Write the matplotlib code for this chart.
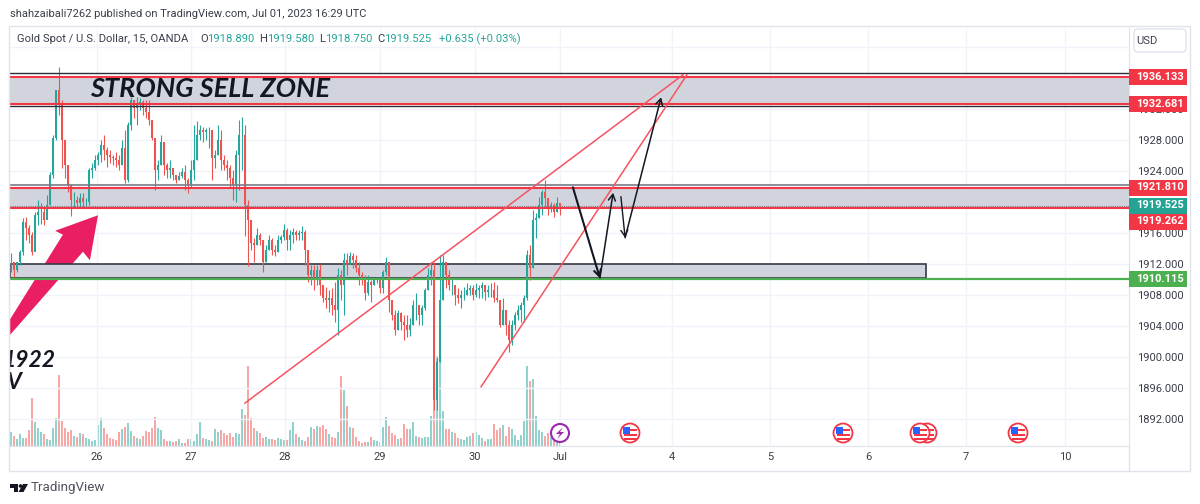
import numpy as np
import matplotlib
matplotlib.use("Agg")
import matplotlib.pyplot as plt
from matplotlib.patches import Rectangle, Polygon, Circle, FancyBboxPatch

plt.rcParams['font.family'] = ['Roboto', 'DejaVu Sans']

# ---------- data ----------
highs = [1913.4,1912.3,1912.3,1913.8,1917.9,1918.1,1917.0,1916.1,1918.7,1920.3,1919.9,1919.5,
 1920.9,1923.9,1928.6,1934.4,1937.4,1933.2,1928.0,1924.8,1922.2,1921.3,1920.8,1921.2,1921.2,1920.5,
 1924.4,1925.0,1926.1,1926.5,1928.0,1928.6,1927.1,1926.7,1926.1,1926.5,1926.1,1928.0,1929.3,1930.3,
 1933.5,1933.2,1933.5,1933.4,1933.2,1933.2,1933.2,1930.6,1928.3,1925.4,1928.6,1927.7,1925.0,1925.4,
 1924.4,1923.5,1923.9,1924.4,1924.8,1923.1,1925.4,1929.9,1930.4,1929.9,1929.7,1929.5,1929.7,1929.3,
 1926.7,1929.9,1929.3,1926.1,1925.4,1924.8,1924.1,1926.7,1930.6,1930.9,1929.9,1920.3,1917.7,1915.4,
 1916.7,1916.0,1915.1,1914.5,1915.8,1915.4,1914.5,1915.8,1915.8,1917.2,1916.7,1916.4,1916.7,1916.4,
 1916.4,1916.9,1916.4,1913.8,1911.9,1911.9,1911.9,1912.0,1909.3,1909.1,1908.7,1908.9,1909.7,1911.5,
 1911.2,1913.4,1913.4,1913.6,1913.4,1913.2,1912.3,1911.0,1910.6,1910.6,1910.0,1910.2,1910.3,1910.0,
 1911.2,1912.9,1912.3,1907.4,1906.1,1906.1,1905.8,1905.4,1905.4,1905.1,1907.4,1908.3,1906.7,1906.7,
 1908.9,1911.5,1912.3,1912.3,1900.0,1913.2,1913.2,1912.0,1911.2,1910.2,1909.3,1908.9,1908.7,1909.1,
 1909.6,1909.3,1909.3,1909.6,1909.3,1909.7,1909.3,1909.3,1909.6,1909.7,1909.3,1907.4,1907.6,1906.1,
 1904.8,1904.8,1905.8,1906.7,1907.1,1908.0,1913.8,1914.5,1919.0,1918.6,1920.7,1921.6,1922.8,1920.5,
 1920.0,1919.9,1920.7,1919.9]
lows = [1911.0,1910.3,1911.0,1911.9,1913.2,1915.1,1914.7,1913.2,1915.8,1917.0,1917.2,1917.0,
 1918.3,1919.6,1923.1,1928.0,1931.2,1924.4,1923.1,1921.3,1918.2,1919.2,1919.2,1919.4,1919.2,1919.4,
 1919.6,1923.1,1924.1,1924.8,1925.2,1925.4,1924.5,1925.0,1924.8,1924.5,1924.1,1924.8,1922.5,1922.6,
 1929.3,1930.8,1929.9,1931.9,1931.2,1930.8,1929.9,1928.0,1921.6,1922.8,1924.8,1923.5,1923.1,1923.1,
 1922.8,1922.5,1922.8,1923.1,1921.6,1921.2,1921.8,1922.8,1925.4,1928.0,1927.7,1928.0,1927.0,1922.8,
 1924.4,1926.1,1924.1,1924.1,1922.8,1921.9,1920.3,1920.0,1921.6,1924.1,1915.6,1911.8,1913.8,1912.3,
 1914.5,1914.5,1911.0,1912.3,1913.8,1913.2,1913.0,1913.6,1914.7,1915.1,1913.8,1913.8,1914.7,1915.1,
 1915.1,1915.1,1911.9,1909.7,1909.3,1908.7,1909.3,1908.0,1907.1,1906.3,1905.8,1905.4,1904.5,1902.9,
 1907.4,1905.4,1910.6,1912.3,1911.5,1911.0,1909.3,1909.3,1907.4,1908.0,1907.1,1909.3,1909.6,1908.3,
 1908.3,1910.6,1905.8,1904.8,1902.9,1903.5,1903.5,1902.2,1902.6,1902.7,1904.2,1904.8,1904.2,1904.2,
 1906.1,1908.7,1909.3,1893.2,1893.2,1899.4,1907.4,1908.9,1908.7,1908.0,1906.7,1907.0,1906.3,1907.4,
 1908.0,1908.0,1907.4,1907.8,1907.6,1907.6,1907.4,1907.8,1907.8,1907.1,1907.1,1903.9,1904.2,1902.9,
 1900.7,1901.6,1903.5,1904.8,1904.5,1904.5,1907.4,1910.0,1911.5,1915.4,1917.9,1918.3,1919.5,1918.3,
 1918.7,1918.1,1918.7,1918.3]
closes = [1912.3,1911.2,1912.3,1913.6,1917.4,1916.7,1915.8,1913.6,1918.3,1918.7,1918.7,1917.7,
 1919.6,1923.5,1928.3,1934.4,1932.5,1928.0,1924.8,1922.2,1920.3,1920.3,1919.9,1920.5,1920.0,1920.0,
 1924.1,1924.4,1925.4,1926.1,1927.4,1926.7,1926.1,1925.8,1925.7,1925.4,1924.8,1927.0,1922.8,1929.9,
 1933.2,1932.1,1932.5,1932.9,1932.1,1931.6,1930.6,1928.3,1924.1,1924.8,1927.7,1924.8,1924.1,1924.4,
 1923.5,1922.8,1923.4,1923.9,1922.8,1922.2,1924.1,1925.4,1928.6,1929.3,1929.0,1929.3,1929.3,1925.7,
 1926.1,1928.0,1925.4,1924.8,1924.4,1923.1,1922.2,1926.1,1928.6,1928.6,1919.6,1917.7,1914.7,1914.5,
 1915.8,1915.1,1912.3,1913.8,1915.1,1913.8,1913.6,1915.1,1915.5,1916.4,1915.1,1915.8,1916.1,1915.8,
 1916.0,1916.1,1913.8,1910.6,1911.2,1910.0,1911.2,1909.3,1907.6,1907.4,1907.6,1906.7,1906.1,1910.6,
 1909.3,1912.5,1911.9,1913.0,1912.5,1911.5,1910.6,1910.0,1908.3,1909.7,1909.3,1910.0,1910.1,1908.9,
 1911.0,1912.3,1907.4,1905.4,1903.5,1905.7,1904.5,1904.2,1903.5,1904.2,1906.7,1906.7,1905.4,1906.3,
 1908.7,1910.6,1911.2,1894.5,1899.4,1907.4,1912.3,1910.6,1909.3,1909.3,1908.0,1907.6,1908.0,1908.0,
 1908.7,1908.9,1908.0,1908.7,1908.9,1909.3,1908.4,1908.7,1908.7,1907.6,1907.4,1904.2,1906.1,1904.2,
 1902.2,1904.2,1905.4,1906.1,1906.7,1907.6,1913.2,1911.5,1917.7,1917.9,1919.6,1921.3,1920.5,1919.2,
 1919.6,1918.7,1919.9,1919.525]
volumes = [14,10,7,12,8,8,16,48,24,18,14,12,7,6,18,28,71,25,18,14,16,10,9,13,12,8,7,5,6,21,28,18,12,8,7,6,
 14,17,19,23,15,10,8,7,10,15,14,18,29,18,16,7,5,5,4,5,7,3,3,7,7,5,12,24,8,7,6,5,17,14,16,13,11,13,9,13,
 12,37,31,80,28,18,15,13,8,9,7,7,6,8,7,6,6,16,24,12,9,6,5,9,19,17,20,19,21,17,12,9,8,14,70,56,40,19,18,
 9,5,3,4,4,9,6,5,4,19,29,20,13,11,7,8,22,17,17,24,10,9,8,9,9,30,100,90,140,35,17,17,14,13,8,7,6,9,10,13,
 14,11,8,5,7,7,22,16,18,21,10,19,17,11,6,11,25,80,65,67,30,16,14,10,13,9,7,6,4]

date_pos = [28.67,60,91.33,123,154.67,183,220.33,253,285.67,318.33,351.33]
date_labels = ['26','27','28','29','30','Jul','4','5','6','7','10']
price_ticks = [1892,1896,1900,1904,1908,1912,1916,1920,1924,1928,1932,1936]
grid_only_price = 1940

sell_zone = (1932.681,1936.133)
mid_zone = (1919.262,1921.810)
low_band = (1910.2,1912.0)
support = 1910.115

trend_a_t, trend_a_p = [78,224], [1894.1,1936.4]
trend_b_t, trend_b_p = [156.7,225.3], [1896.2,1936.4]
path_t = [187.3,196.3,200.7]
path_p = [1921.9,1910.2,1921.2]
path2_t = [203.3,204.7,216.7]
path2_p = [1920.7,1915.4,1933.5]
pink_t = [29,14.7,17.3,-0.3,-0.3,24,26.3]
pink_p = [1918.3,1916.3,1915.8,1904.9,1902.9,1913.6,1912.5]

hdr = 'shahzaibali7262 published on TradingView.com, Jul 01, 2023 16:29 UTC'
TEAL, RED = '#26a69a', '#ef5350'
GRID, BORDER, TXT = '#f0f3fa', '#e0e3eb', '#131722'

# ---------- figure ----------
fig = plt.figure(figsize=(12,5.04), dpi=100, facecolor='white')
pos = [10/1200, (504-446)/504, 1119/1200, 418/504]
vax = fig.add_axes(pos, zorder=1)
ax = fig.add_axes(pos, zorder=2, facecolor='none')
x = np.arange(len(closes))
xlim = (-1/3, 1119/3-1/3)
ylim = (1888.57, 1942.43)

opens = np.array([closes[0]] + closes[:-1])
c = np.array(closes)
up = c >= opens
cols = [TEAL if u else RED for u in up]

# volume
vax.set_xlim(xlim); vax.set_ylim(0,418); vax.axis('off')
vax.bar(x, volumes, width=0.9, color=cols, alpha=0.5, linewidth=0)

ax.set_xlim(xlim); ax.set_ylim(ylim)
for s in ('top','left'):
    ax.spines[s].set_visible(False)
for s in ('bottom','right'):
    ax.spines[s].set_color(BORDER)
ax.yaxis.tick_right()
ax.set_yticks(price_ticks)
ax.set_yticklabels([f'{p:.3f}' for p in price_ticks])
ax.set_xticks(date_pos); ax.set_xticklabels(date_labels)
ax.tick_params(length=0, labelcolor='#3a3e4a', labelsize=8.0)
ax.tick_params(axis='y', pad=6)
ax.tick_params(axis='x', pad=4)
ax.grid(True, color=GRID, lw=1, zorder=0)
ax.axhline(grid_only_price, color=GRID, lw=1, zorder=0)
ax.set_axisbelow(True)

# pink arrow (below the zones)
ax.add_patch(Polygon(list(zip(pink_t, pink_p)), closed=True, fc='#e91e63', ec='none', zorder=1.5))

# zones
ax.axhspan(*sell_zone, color='#d1d4dc', lw=0, zorder=2)
ax.axhspan(*mid_zone, color='#d1d4dc', lw=0, zorder=2)
ax.add_patch(Rectangle((xlim[0], low_band[0]), (926-10)/3, low_band[1]-low_band[0],
                       fc='#d1d4dc', ec='#363a45', lw=1.2, zorder=2))

# candles
ax.vlines(x, lows, highs, color=cols, lw=0.8, zorder=3)
ax.bar(x, np.abs(c-opens), bottom=np.minimum(c,opens), width=0.5,
       color=cols, linewidth=0, zorder=3)

# zone lines
ax.axhline(1936.67, color='#2a2e39', lw=1, zorder=4)
ax.axhline(1932.43, color='#2a2e39', lw=1, zorder=4)
ax.axhline(1922.15, color='#787b86', lw=1.2, zorder=4)
ax.axhline(1919.5, color='#787b86', lw=0.8, ls=(0,(1,1)), zorder=4)
for p in (sell_zone[1], sell_zone[0], mid_zone[1], mid_zone[0]):
    ax.axhline(p, color='#f23645', lw=1.5, zorder=4.2)
ax.axhline(support, color='#4caf50', lw=1.6, zorder=4.2)

# trend lines
ax.plot(trend_a_t, trend_a_p, color='#f7525f', lw=1.1, zorder=5)
ax.plot(trend_b_t, trend_b_p, color='#f7525f', lw=1.1, zorder=5)

# black path arrows
def arrow(t0,p0,t1,p1,lw):
    ax.annotate('', xy=(t1,p1), xytext=(t0,p0), zorder=6,
        arrowprops=dict(arrowstyle='->,head_width=0.25,head_length=0.45', color='#131722',
                        lw=lw, shrinkA=0, shrinkB=0))
arrow(path_t[0],path_p[0],path_t[1],path_p[1],1.5)
arrow(path_t[1],path_p[1],path_t[2],path_p[2],1.1)
arrow(path2_t[0],path2_p[0],path2_t[1],path2_p[1],1.0)
arrow(path2_t[1],path2_p[1],path2_t[2],path2_p[2],1.1)

# annotation text
ax.text(26.2, 1934.55, 'STRONG SELL ZONE', family='Lato', style='italic', weight='bold',
        fontsize=19.5, color='#131722', va='center', ha='left', zorder=7)
ax.text(15, 1899.6, '1922', family='Lato', style='italic', weight='bold', fontsize=16.5,
        color='#131722', va='center', ha='right', zorder=7, clip_on=True)
ax.text(-1.2, 1896.75, 'V', family='Lato', style='italic', weight='bold', fontsize=16.5,
        color='#131722', va='center', ha='left', zorder=7, clip_on=True)

# ---------- chrome in pixel coordinates ----------
ch = fig.add_axes([0,0,1,1], zorder=5, facecolor='none')
ch.set_xlim(0,1200); ch.set_ylim(504,0); ch.axis('off')
ch.add_patch(Rectangle((8.5,25.5),1181,445.5, fc='none', ec=BORDER, lw=1))
ch.plot([1129,1129],[446,471], color=BORDER, lw=1)
ch.text(10,14,hdr,fontsize=8.0,color='#3a3e4a',va='center')
ch.text(17,39,'Gold Spot / U.S. Dollar, 15, OANDA',fontsize=8.1,color='#3a3e4a',va='center')
for lab,xa,val,xb in [('O',200,'1918.890',207),('H',259,'1919.580',267),('L',319,'1918.750',325),('C',377,'1919.525',384)]:
    ch.text(xa,39,lab,fontsize=8.1,color='#3a3e4a',va='center')
    ch.text(xb,39,val,fontsize=8.1,color=TEAL,va='center')
ch.text(439,39,'+0.635 (+0.03%)',fontsize=8.1,color=TEAL,va='center')

ch.add_patch(FancyBboxPatch((1134,29),52,23,boxstyle='round,pad=0,rounding_size=4',fc='white',ec=BORDER,lw=1))
ch.text(1136,40.5,'USD',fontsize=8.0,color='#3a3e4a',va='center')

for y,txt,col in [(77,'1936.133','#f23645'),(104,'1932.681','#f23645'),(187.5,'1921.810','#f23645'),
                  (205.5,'1919.525','#22a394'),(221.5,'1919.262','#f23645'),(279,'1910.115','#4caf50')]:
    ch.add_patch(Rectangle((1129,y-8),58,16,fc=col,ec='none',zorder=3))
    ch.text(1136.5,y,txt,fontsize=8.0,color='white',weight='bold',va='center',zorder=4)

# event icons
def flag(cx,cy):
    ch.add_patch(Circle((cx,cy),9.5,fc='white',ec='#f23645',lw=1.3))
    ch.add_patch(Rectangle((cx-6.5,cy+1),13,2,fc='#f23645',ec='none'))
    ch.add_patch(Rectangle((cx-6.5,cy+5),13,2,fc='#f23645',ec='none'))
    ch.add_patch(Rectangle((cx-1,cy-4),8,2,fc='#f23645',ec='none'))
    ch.add_patch(Rectangle((cx-7,cy-6.5),7,7,fc='#2962ff',ec='none'))
for cx in (630,843,927,920,1018):
    flag(cx,433)
ch.add_patch(Circle((560,433),9,fc='white',ec='#9c27b0',lw=1.5))
ch.add_patch(Polygon([[563,427],[556,434],[560,434],[557,439],[564,432],[560,432]],fc='#9c27b0',ec='none'))

# logo
ch.add_patch(Polygon([[10,484],[18,484],[18,492],[14,492],[14,488],[10,488]],fc='#131722',ec='none'))
ch.add_patch(Circle((20.5,486),1.8,fc='#131722',ec='none'))
ch.add_patch(Polygon([[23,484],[28,484],[23.5,492],[18.5,492]],fc='#131722',ec='none'))
ch.text(31,488,'TradingView',fontsize=9.6,color='#50535e',va='center')

fig.savefig('out.png', dpi=100)
